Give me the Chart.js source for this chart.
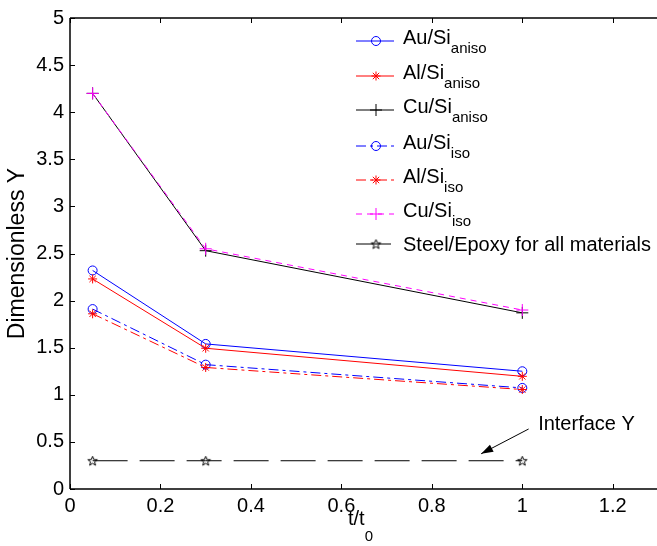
<html>
<head>
<script src="https://cdn.jsdelivr.net/npm/chart.js@4"></script>
<style>
body { margin: 0; overflow: hidden; background: #fff; }
</style>
</head>
<body>
<canvas id="myChart" width="665" height="546"></canvas>
<script>
// data
var tValues = [0.05, 0.3, 1];
var auAniso = [2.32, 1.54, 1.25];
var alAniso = [2.23, 1.494, 1.196];
var cuAniso = [4.2, 2.53, 1.87];
var auIso = [1.91, 1.32, 1.073];
var alIso = [1.86, 1.29, 1.056];
var cuIso = [4.2, 2.55, 1.9];
var steelEpoxy = [0.3, 0.3, 0.3];
var xTicks = [0, 0.2, 0.4, 0.6, 0.8, 1, 1.2];
var yTicks = [0, 0.5, 1, 1.5, 2, 2.5, 3, 3.5, 4, 4.5, 5];
var legendNames = ['Au/Si', 'Al/Si', 'Cu/Si', 'Au/Si', 'Al/Si', 'Cu/Si', 'Steel/Epoxy for all materials'];
var legendSubs = ['aniso', 'aniso', 'aniso', 'iso', 'iso', 'iso', ''];

var FONT = '"Liberation Sans", Arial, sans-serif';

// hollow pentagram marker (matlab 'p')
var pentagram = document.createElement('canvas');
pentagram.width = 13; pentagram.height = 13;
var pc = pentagram.getContext('2d');
pc.beginPath();
for (var k = 0; k < 10; k++) {
    var r = k % 2 == 0 ? 5 : 2.1;
    var a = -Math.PI / 2 + k * Math.PI / 5;
    var px = 6.5 + r * Math.cos(a), py = 7 + r * Math.sin(a);
    if (k == 0) pc.moveTo(px, py); else pc.lineTo(px, py);
}
pc.closePath();
pc.strokeStyle = '#000';
pc.lineWidth = 1;
pc.stroke();

function pts(ys) {
    return tValues.map(function (t, i) { return {x: t, y: ys[i]}; });
}

var series = [
    {data: auAniso, color: '#0000ff', dash: [], style: 'circle', radius: 4.5},
    {data: alAniso, color: '#ff0000', dash: [], style: 'star', radius: 4.5},
    {data: cuAniso, color: '#000000', dash: [], style: 'cross', radius: 6},
    {data: auIso, color: '#0000ff', dash: [10, 4, 3, 4], style: 'circle', radius: 4.5},
    {data: alIso, color: '#ff0000', dash: [10, 4, 3, 4], style: 'star', radius: 4.5},
    {data: cuIso, color: '#ff00ff', dash: [6, 5], style: 'cross', radius: 6},
    {data: steelEpoxy, color: '#000000', dash: [35, 12], style: pentagram, radius: 5}
];

var datasets = series.map(function (s, i) {
    return {
        label: legendNames[i] + legendSubs[i],
        data: pts(s.data),
        showLine: true,
        borderColor: s.color,
        borderWidth: 1,
        borderDash: s.dash,
        tension: 0,
        pointStyle: s.style,
        pointRadius: s.radius,
        pointBorderColor: s.color,
        pointBackgroundColor: 'rgba(0,0,0,0)',
        pointBorderWidth: 1,
        order: series.length - i
    };
});

function drawMarker(ctx, s, x, y) {
    ctx.save();
    ctx.setLineDash([]);
    ctx.strokeStyle = s.color;
    ctx.fillStyle = 'rgba(0,0,0,0)';
    ctx.lineWidth = 1;
    Chart.helpers.drawPoint(ctx, {pointStyle: s.style, radius: s.radius, rotation: 0, borderWidth: 1}, x, y);
    ctx.restore();
}

var extras = {
    id: 'extras',
    afterDraw: function (chart) {
        var ctx = chart.ctx;
        var ca = chart.chartArea;
        var xs = chart.scales.x, ys = chart.scales.y;
        ctx.save();
        // frame and inward ticks
        ctx.strokeStyle = '#000';
        ctx.lineWidth = 1.5;
        ctx.setLineDash([]);
        ctx.beginPath();
        ctx.moveTo(ca.left, ca.top); ctx.lineTo(ca.right, ca.top);
        ctx.moveTo(ca.left, ca.top); ctx.lineTo(ca.left, ca.bottom);
        ctx.moveTo(ca.left, ca.bottom); ctx.lineTo(ca.right, ca.bottom);
        ctx.stroke();
        ctx.lineWidth = 1;
        ctx.beginPath();
        xTicks.forEach(function (v) {
            var p = Math.round(xs.getPixelForValue(v)) + 0.5;
            ctx.moveTo(p, ca.bottom); ctx.lineTo(p, ca.bottom - 5);
            ctx.moveTo(p, ca.top); ctx.lineTo(p, ca.top + 5);
        });
        yTicks.forEach(function (v) {
            var p = Math.round(ys.getPixelForValue(v)) + 0.5;
            ctx.moveTo(ca.left, p); ctx.lineTo(ca.left + 5, p);
        });
        ctx.stroke();

        // legend
        var rowY = [41, 76, 110, 146, 180, 214, 244];
        series.forEach(function (s, i) {
            var y = rowY[i];
            ctx.strokeStyle = s.color;
            ctx.lineWidth = 1;
            ctx.setLineDash(s.dash);
            ctx.beginPath();
            ctx.moveTo(356, y); ctx.lineTo(394, y);
            ctx.stroke();
            drawMarker(ctx, s, 376, y);
            ctx.fillStyle = '#000';
            ctx.textAlign = 'left';
            ctx.textBaseline = 'alphabetic';
            ctx.font = '20px ' + FONT;
            if (legendSubs[i]) {
                ctx.fillText(legendNames[i], 403, y + 3);
                var w = ctx.measureText(legendNames[i]).width;
                ctx.font = '15px ' + FONT;
                ctx.fillText(legendSubs[i], 403 + w, y + 12);
            } else {
                ctx.fillText(legendNames[i], 403, y + 7);
            }
        });

        // x axis title with subscript
        ctx.fillStyle = '#000';
        ctx.font = '20px ' + FONT;
        ctx.fillText('t/t', 348, 525);
        var tw = ctx.measureText('t/t').width;
        ctx.font = '15px ' + FONT;
        ctx.fillText('0', 348 + tw, 541);

        // annotation
        ctx.font = '20px ' + FONT;
        ctx.fillText('Interface Y', xs.getPixelForValue(1.035), ys.getPixelForValue(0.627));
        var x1 = xs.getPixelForValue(1.014), y1 = ys.getPixelForValue(0.637);
        var x2 = xs.getPixelForValue(0.909), y2 = ys.getPixelForValue(0.374);
        ctx.strokeStyle = '#000';
        ctx.setLineDash([]);
        ctx.lineWidth = 1;
        ctx.beginPath();
        ctx.moveTo(x1, y1); ctx.lineTo(x2, y2);
        ctx.stroke();
        var ang = Math.atan2(y2 - y1, x2 - x1);
        ctx.beginPath();
        ctx.moveTo(x2, y2);
        ctx.lineTo(x2 - 12 * Math.cos(ang) + 4 * Math.sin(ang), y2 - 12 * Math.sin(ang) - 4 * Math.cos(ang));
        ctx.lineTo(x2 - 12 * Math.cos(ang) - 4 * Math.sin(ang), y2 - 12 * Math.sin(ang) + 4 * Math.cos(ang));
        ctx.closePath();
        ctx.fillStyle = '#000';
        ctx.fill();
        ctx.restore();
    }
};

var ctx = document.getElementById('myChart').getContext('2d');
var chart = new Chart(ctx, {
    type: 'scatter',
    data: {datasets: datasets},
    plugins: [extras],
    options: {
        responsive: false,
        animation: false,
        devicePixelRatio: 1,
        layout: {padding: {top: 14, right: 3, left: 0, bottom: 0}},
        plugins: {legend: {display: false}, tooltip: {enabled: false}},
        scales: {
            x: {
                type: 'linear',
                min: 0,
                max: 1.3,
                afterBuildTicks: function (s) { s.ticks = xTicks.map(function (v) { return {value: v}; }); },
                afterFit: function (s) { s.height = 57; },
                grid: {display: false, drawTicks: false},
                border: {display: false},
                ticks: {
                    color: '#000',
                    padding: 5,
                    maxRotation: 0,
                    font: {family: FONT, size: 20},
                    callback: function (v) { return String(v); }
                }
            },
            y: {
                min: 0,
                max: 5,
                afterBuildTicks: function (s) { s.ticks = yTicks.map(function (v) { return {value: v}; }); },
                afterFit: function (s) { s.width = 70; },
                grid: {display: false, drawTicks: false},
                border: {display: false},
                title: {
                    display: true,
                    text: 'Dimensionless Y',
                    color: '#000',
                    font: {family: FONT, size: 23},
                    padding: {top: 4, bottom: 0}
                },
                ticks: {
                    color: '#000',
                    padding: 6,
                    font: {family: FONT, size: 20},
                    callback: function (v) { return String(v); }
                }
            }
        }
    }
});
</script>
</body>
</html>
